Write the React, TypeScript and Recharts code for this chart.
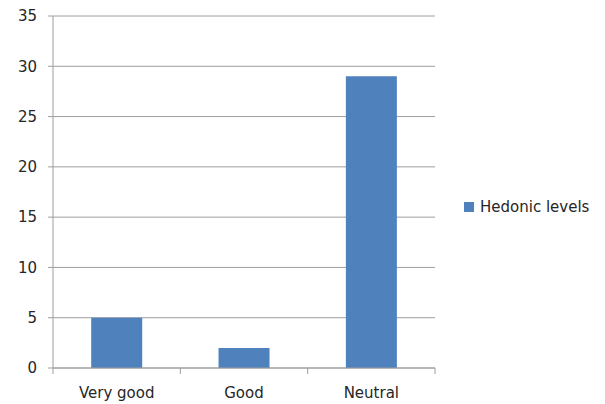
import React from "react";
import { BarChart, Bar, XAxis, YAxis, CartesianGrid, Legend } from "recharts";

const categories = ["Very good", "Good", "Neutral"];
const hedonicLevels = [5, 2, 29];
const yTicks = [0, 5, 10, 15, 20, 25, 30, 35];
const seriesName = "Hedonic levels";

const data = categories.map((name, i) => ({ name, value: hedonicLevels[i] }));

const BAR_COLOR = "#4f81bd";
const AXIS_COLOR = "#9e9e9e";
const TEXT_COLOR = "#262626";
const FONT = "'DejaVu Sans', sans-serif";
const FONT_SIZE = 15;

// Category label centred in its band, with tick marks on the band boundaries.
const CategoryTick = (props: any) => {
  const { x, y, payload, index, visibleTicksCount } = props;
  const half = payload && payload.offset ? payload.offset : 0;
  const last = index === visibleTicksCount - 1;
  return (
    <g>
      <line x1={x - half} x2={x - half} y1={y - 8} y2={y - 2} stroke={AXIS_COLOR} />
      {last && <line x1={x + half} x2={x + half} y1={y - 8} y2={y - 2} stroke={AXIS_COLOR} />}
      <text x={x} y={y + 22} textAnchor="middle" fill={TEXT_COLOR} fontSize={FONT_SIZE} fontFamily={FONT}>
        {payload.value}
      </text>
    </g>
  );
};

const LegendContent = (props: any) => {
  const items = props.payload || [];
  return (
    <div style={{ fontFamily: FONT, fontSize: FONT_SIZE, color: TEXT_COLOR }}>
      {items.map((it: any) => (
        <div key={it.value} style={{ display: "flex", alignItems: "center" }}>
          <span style={{ display: "inline-block", width: 10, height: 10, background: it.color, marginRight: 6 }} />
          <span>{it.value}</span>
        </div>
      ))}
    </div>
  );
};

export default function App() {
  return (
    <div style={{ position: "absolute", left: 0, top: 0, width: 605, height: 404, background: "#fff" }}>
      <BarChart
        width={605}
        height={404}
        data={data}
        margin={{ top: 16, right: 30, bottom: 0, left: 0 }}
        barCategoryGap="30%"
      >
        <CartesianGrid vertical={false} stroke={AXIS_COLOR} />
        <XAxis
          dataKey="name"
          height={36}
          axisLine={{ stroke: AXIS_COLOR }}
          tickLine={false}
          tick={<CategoryTick />}
          interval={0}
        />
        <YAxis
          width={53}
          domain={[0, 35]}
          ticks={yTicks}
          interval={0}
          axisLine={{ stroke: AXIS_COLOR }}
          tickLine={{ stroke: AXIS_COLOR }}
          tickSize={5}
          tickMargin={11}
          tick={{ fill: TEXT_COLOR, fontSize: FONT_SIZE, fontFamily: FONT }}
        />
        <Legend
          layout="vertical"
          align="right"
          verticalAlign="top"
          content={<LegendContent />}
          wrapperStyle={{ left: 464, top: 198, width: 140 }}
        />
        <Bar dataKey="value" name={seriesName} fill={BAR_COLOR} isAnimationActive={false} />
      </BarChart>
    </div>
  );
}
